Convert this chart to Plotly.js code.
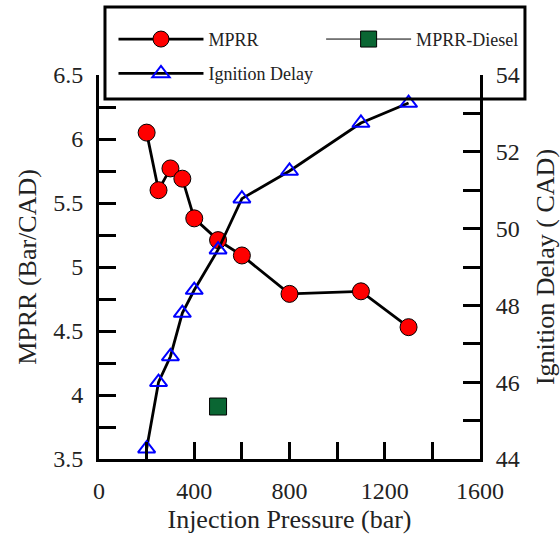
<!DOCTYPE html>
<html>
<head>
<meta charset="utf-8">
<script src="https://cdn.plot.ly/plotly-3.0.1.min.js"></script>
<style>
  html, body { margin: 0; padding: 0; background: #fff; }
  #chart { width: 560px; height: 538px; }
</style>
</head>
<body>
<div id="chart"></div>
<script>
// Injection pressure sweep (bar)
const pressure = [200, 250, 300, 350, 400, 500, 600, 800, 1100, 1300];
// Maximum pressure rise rate (bar/CAD)
const mprr = [6.05, 5.60, 5.77, 5.69, 5.38, 5.21, 5.09, 4.79, 4.81, 4.53];
// Ignition delay (CAD)
const ignitionDelay = [44.27, 46.0, 46.67, 47.8, 48.4, 49.45, 50.78, 51.5, 52.75, 53.27];
// Diesel reference point
const dieselPressure = [500];
const dieselMprr = [3.91];

const serif = 'Liberation Serif, Times New Roman, serif';

const traces = [
  {
    x: pressure, y: mprr, name: 'MPRR', type: 'scatter', mode: 'lines+markers',
    line: { color: '#000', width: 2.8 },
    marker: { symbol: 'circle', size: 17, color: '#ff0000', line: { color: '#000', width: 1 } },
    legend: 'legend', legendgroup: 'a'
  },
  {
    x: pressure, y: ignitionDelay, name: 'Ignition Delay', type: 'scatter', mode: 'lines+markers',
    yaxis: 'y2',
    line: { color: '#000', width: 2.8 },
    marker: { symbol: 'triangle-up-open', size: 15, color: '#0000ff', line: { color: '#0000ff', width: 2 } },
    legend: 'legend', legendgroup: 'b'
  },
  {
    x: dieselPressure, y: dieselMprr, name: 'MPRR-Diesel', type: 'scatter', mode: 'lines+markers',
    line: { color: '#000', width: 1 },
    marker: { symbol: 'square', size: 17, color: '#0a6633', line: { color: '#000', width: 1 } },
    legend: 'legend2'
  }
];

const axisCommon = {
  showline: true, linecolor: '#000', linewidth: 3,
  ticks: 'inside', ticklen: 17, tickwidth: 3, tickcolor: '#000',
  ticklabelstandoff: 8,
  showgrid: false, zeroline: false,
  tickfont: { family: serif, size: 24, color: '#222' },
  title: { font: { family: serif, size: 26, color: '#222' } }
};

const legendCommon = {
  orientation: 'v', bgcolor: 'rgba(0,0,0,0)', borderwidth: 0,
  font: { family: serif, size: 18, color: '#222' },
  itemwidth: 85, tracegroupgap: 8,
  xanchor: 'left', yanchor: 'top'
};

const layout = {
  width: 560, height: 538,
  margin: { l: 99, r: 80, t: 75, b: 79 },
  paper_bgcolor: '#fff', plot_bgcolor: '#fff',
  showlegend: true,
  xaxis: Object.assign({}, axisCommon, {
    range: [0, 1600], dtick: 400, tick0: 0,
    minor: { dtick: 200, ticks: 'inside', ticklen: 17, tickwidth: 3, tickcolor: '#000' },
    title: { text: 'Injection Pressure (bar)', standoff: 8, font: axisCommon.title.font }
  }),
  yaxis: Object.assign({}, axisCommon, {
    range: [3.5, 6.5], dtick: 0.5, tick0: 3.5,
    minor: { dtick: 0.25, ticks: 'inside', ticklen: 17, tickwidth: 3, tickcolor: '#000' },
    title: { text: 'MPRR (Bar/CAD)', standoff: 10, font: axisCommon.title.font }
  }),
  yaxis2: Object.assign({}, axisCommon, {
    overlaying: 'y', side: 'right',
    range: [44, 54], dtick: 2, tick0: 44,
    minor: { dtick: 1, ticks: 'inside', ticklen: 17, tickwidth: 3, tickcolor: '#000' },
    title: { text: 'Ignition Delay ( CAD)', standoff: 21, font: axisCommon.title.font }
  }),
  legend: Object.assign({}, legendCommon, { x: 0.038, y: 1.141 }),
  legend2: Object.assign({}, legendCommon, { x: 0.583, y: 1.141 }),
  shapes: [
    {
      type: 'rect', xref: 'paper', yref: 'paper', layer: 'above',
      x0: 0.0157, x1: 1.118, y0: 0.9375, y1: 1.177,
      line: { color: '#000', width: 3 }, fillcolor: 'rgba(0,0,0,0)'
    }
  ]
};

Plotly.newPlot('chart', traces, layout, { staticPlot: true, displayModeBar: false });
</script>
</body>
</html>
